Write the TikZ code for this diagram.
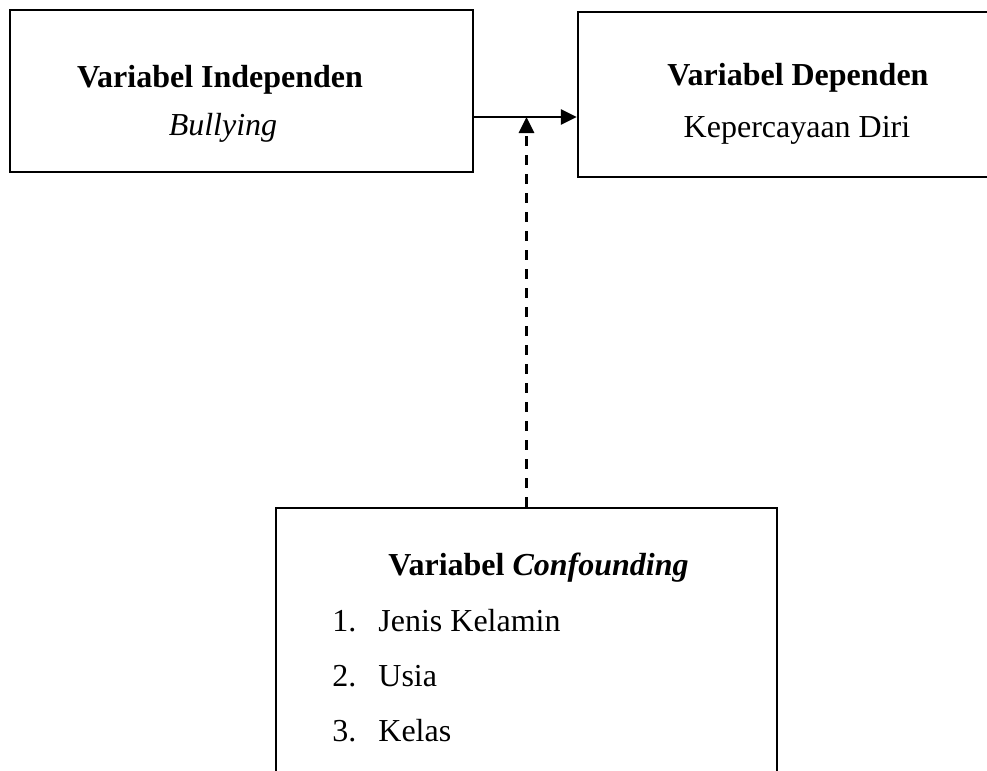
\documentclass[tikz,border=0pt]{standalone}
\usepackage{fontspec}
\setmainfont{Liberation Serif}
\usetikzlibrary{arrows.meta}

\begin{document}
\fontsize{16}{19}\selectfont
\begin{tikzpicture}[x=0.5pt, y=-0.5pt,
		box/.style={draw, line width=1.1pt, inner sep=0pt},
		item/.style={anchor=base west, inner sep=0pt},
		link/.style={line width=1.4pt, -{Triangle[length=8pt, width=7.5pt]}}]
		\useasboundingbox (0,0) rectangle (987,771);
		\clip (0,0) rectangle (987,771);
		% boxes
		\node[box, minimum width=231.5pt, minimum height=81pt] (indep) at (241.5,91) {};
		\node[box, minimum width=211pt, minimum height=82.5pt] (dep) at (789,94.5) {};
		\node[box, minimum width=250.5pt, minimum height=146pt] (conf) at (526.5,654) {};
		% texts
		\node[anchor=base, font=\bfseries] (indeptitle) at (220,87) {Variabel Independen};
		\node[anchor=base, font=\itshape] (indepvar) at (223,135) {Bullying};
		\node[anchor=base, font=\bfseries] (deptitle) at (798,85) {Variabel Dependen};
		\node[anchor=base] (depvar) at (797,137) {Kepercayaan Diri};
		\node[item, font=\bfseries] (conftitle) at (388,575) {Variabel \textit{Confounding}};
		\node[item] (n1) at (332,631) {1.};
		\node[item] (n2) at (332,686) {2.};
		\node[item] (n3) at (332,741) {3.};
		\node[item] (c1) at (378,631) {Jenis Kelamin};
		\node[item] (c2) at (378,686) {Usia};
		\node[item] (c3) at (378,741) {Kelas};
		% arrows
		\coordinate (junc) at (526.5,117);
		\draw[link] (indep.east |- junc) -- (dep.west |- junc);
		\draw[link, dash pattern=on 5pt off 4.5pt] (conf.north) -- (junc);
	\end{tikzpicture}
\end{document}
